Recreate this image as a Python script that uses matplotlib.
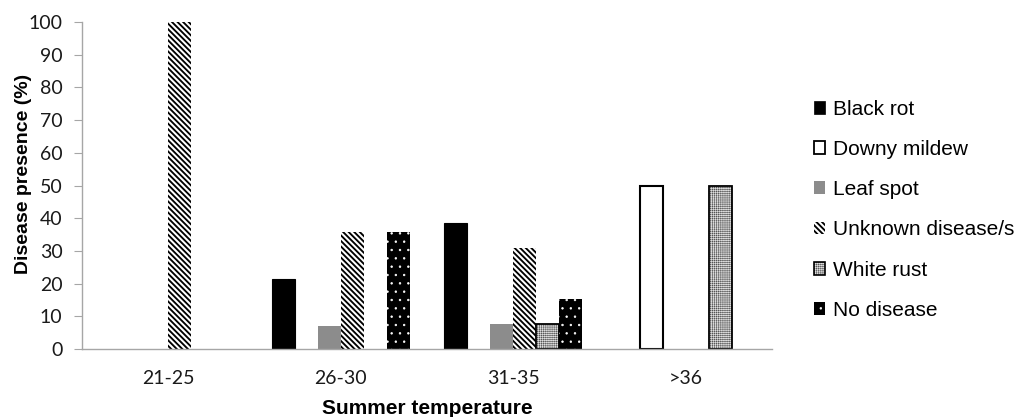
import numpy as np
import matplotlib
matplotlib.use("Agg")
import matplotlib.pyplot as plt
from matplotlib.patches import Patch
from matplotlib.legend_handler import HandlerTuple

categories = ["21-25", "26-30", "31-35", ">36"]
series_names = ["Black rot", "Downy mildew", "Leaf spot", "Unknown disease/s", "White rust", "No disease"]
black_rot = [0, 21.4, 38.5, 0]
downy_mildew = [0, 0, 0, 50]
leaf_spot = [0, 7.1, 7.7, 0]
unknown = [100, 35.7, 30.8, 0]
white_rust = [0, 0, 7.7, 50]
no_disease = [0, 35.7, 15.4, 0]
yticks = [0, 10, 20, 30, 40, 50, 60, 70, 80, 90, 100]

HATCH_STRIPE = "\\\\\\\\\\\\"
HATCH_GRID = "++++++++"
HATCH_DOTS = ".."
HATCH_LW = {HATCH_STRIPE: 1.35, HATCH_GRID: 0.45, HATCH_DOTS: 0.5}

fig = plt.figure(figsize=(10.17, 4.17), dpi=100)
ax = fig.add_axes([0.0806, 0.163, 0.6785, 0.784])

x = np.arange(len(categories))
w = 0.8 / 6

def vals(v):
    a = np.array(v, dtype=float)
    a[a == 0] = np.nan
    return a

offs = [(i - 2.5) * w for i in range(6)]

ax.bar(x + offs[0], vals(black_rot), w, color="black", edgecolor="black", linewidth=0.8)
ax.bar(x + offs[1], vals(downy_mildew), w, color="white", edgecolor="black", linewidth=1.5)
ax.bar(x + offs[2], vals(leaf_spot), w, color="#8c8c8c", linewidth=0)
ax.bar(x + offs[3], vals(unknown), w, color="white", edgecolor="black", hatch=HATCH_STRIPE, linewidth=0)
ax.bar(x + offs[4], vals(white_rust), w, color="#555555", edgecolor="#dddddd", hatch=HATCH_GRID, linewidth=0)
ax.bar(x + offs[4], vals(white_rust), w, fill=False, edgecolor="black", linewidth=1.3)
ax.bar(x + offs[5], vals(no_disease), w, color="black", edgecolor="white", hatch=HATCH_DOTS, linewidth=0)

ax.set_xlim(-0.5, len(categories) - 0.5)
ax.set_ylim(0, 100)
ax.set_yticks(yticks)
ax.set_xticks(x)
ax.set_xticklabels(categories)

for s in ["top", "right"]:
    ax.spines[s].set_visible(False)
for s in ["left", "bottom"]:
    ax.spines[s].set_color("#a6a6a6")
    ax.spines[s].set_linewidth(1.0)

ax.tick_params(axis="y", direction="out", length=6, color="#a6a6a6", pad=8,
               labelsize=14, labelcolor="#1a1a1a")
ax.tick_params(axis="x", length=0, pad=15, labelsize=14, labelcolor="#1a1a1a")
for lab in ax.get_xticklabels() + ax.get_yticklabels():
    lab.set_family("Lato")

ax.set_ylabel("Disease presence (%)", fontsize=14, fontweight="bold",
              family="Liberation Sans")
ax.yaxis.set_label_coords(-0.072, 0.535)
ax.set_xlabel("Summer temperature", fontsize=15, fontweight="bold",
              family="Liberation Sans", labelpad=9)

handles = [
    Patch(facecolor="black", edgecolor="black", linewidth=0.5),
    Patch(facecolor="white", edgecolor="black", linewidth=1.3),
    Patch(facecolor="#8c8c8c", edgecolor="#8c8c8c", linewidth=0),
    Patch(facecolor="white", edgecolor="black", hatch=HATCH_STRIPE, linewidth=0),
    (Patch(facecolor="#555555", edgecolor="#dddddd", hatch=HATCH_GRID, linewidth=0),
     Patch(facecolor="none", edgecolor="black", linewidth=1.2)),
    Patch(facecolor="black", edgecolor="white", hatch=HATCH_DOTS, linewidth=0),
]
leg = fig.legend(handles, series_names, loc="center left", bbox_to_anchor=(0.792, 0.497),
                 frameon=False, prop={"family": "Liberation Sans", "size": 15},
                 handlelength=0.55, handleheight=0.55, handletextpad=0.35,
                 labelspacing=1.02, borderaxespad=0,
                 handler_map={tuple: HandlerTuple(ndivide=1, pad=0)})

# apply per-artist hatch line widths at draw time
def wrap_hatch(p, lw):
    if hasattr(p, "_hatch_linewidth"):
        p._hatch_linewidth = lw
    orig = p.draw
    def draw(renderer, _orig=orig, _lw=lw):
        with plt.rc_context({'hatch.linewidth': _lw}):
            _orig(renderer)
    p.draw = draw

for p in fig.findobj(lambda a: isinstance(a, matplotlib.patches.Patch)):
    h = p.get_hatch()
    if h in HATCH_LW:
        wrap_hatch(p, HATCH_LW[h])

fig.savefig("out.png", dpi=100)
